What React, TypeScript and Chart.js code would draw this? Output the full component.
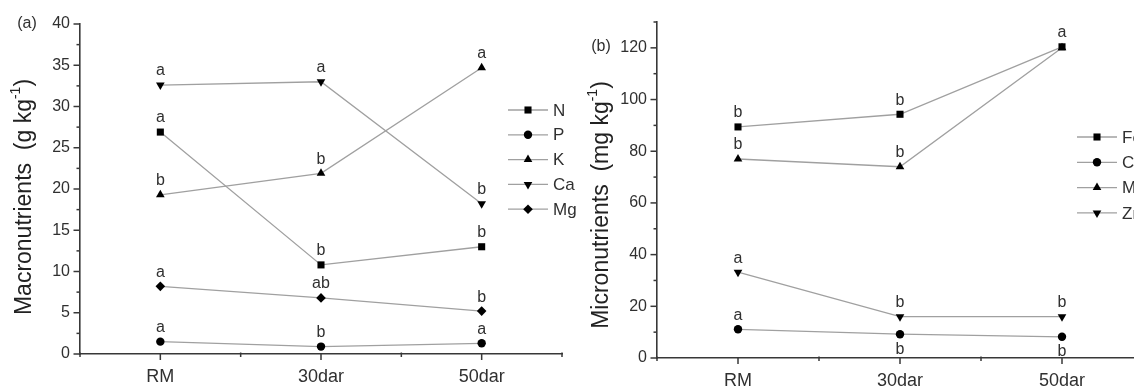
import React, { useEffect, useRef } from 'react';
import { Chart, registerables } from 'chart.js';

Chart.register(...registerables);

// ---------- data ----------
const categories = ['RM', '30dar', '50dar'];

// Panel (a) – macronutrients (g kg-1)
const nValues = [26.9, 10.8, 13.0];
const pValues = [1.5, 0.9, 1.3];
const kValues = [19.3, 21.9, 34.7];
const caValues = [32.6, 33.0, 18.2];
const mgValues = [8.2, 6.8, 5.2];

const nLetters = ['a', 'b', 'b'];
const pLetters = ['a', 'b', 'a'];
const kLetters = ['b', 'b', 'a'];
const caLetters = ['a', 'a', 'b'];
const mgLetters = ['a', 'ab', 'b'];

// Panel (b) – micronutrients (mg kg-1)
const feValues = [89.4, 94.3, 120.4];
const cuValues = [11.1, 9.2, 8.2];
const mnValues = [77.0, 74.0, 120.0];
const znValues = [33.2, 16.0, 16.0];

const feLetters = ['b', 'b', 'a'];
const cuLetters = ['a', 'b', 'b'];
const cuLettersBelow = [false, true, true];
const mnLetters = ['b', 'b', ''];
const znLetters = ['a', 'b', 'b'];

const macroTickStep = 2.5;
const macroLabelStep = 5;
const macroMax = 40;
const microTickStep = 10;
const microLabelStep = 20;
const microMax = 130;

// ---------- styling ----------
const FONT = "'Liberation Sans', Arial, Helvetica, sans-serif";
const LINE_COLOR = '#a0a0a0';
const AXIS_COLOR = '#383838';
const TEXT_COLOR = '#303030';

type Marker = { style: string; rotation: number; radius: number };
const SQUARE: Marker = { style: 'rect', rotation: 0, radius: 5 };
const CIRCLE: Marker = { style: 'circle', rotation: 0, radius: 4.2 };
const TRI_UP: Marker = { style: 'triangle', rotation: 0, radius: 5 };
const TRI_DOWN: Marker = { style: 'triangle', rotation: 180, radius: 5 };
const DIAMOND: Marker = { style: 'rectRot', rotation: 0, radius: 4.8 };

function drawMarker(ctx: CanvasRenderingContext2D, m: Marker, x: number, y: number) {
  const r = m.radius;
  ctx.beginPath();
  if (m.style === 'rect') {
    const s = Math.SQRT1_2 * r;
    ctx.rect(x - s, y - s, 2 * s, 2 * s);
  } else if (m.style === 'circle') {
    ctx.arc(x, y, r, 0, Math.PI * 2);
  } else if (m.style === 'triangle') {
    let rad = (m.rotation * Math.PI) / 180;
    ctx.moveTo(x + Math.sin(rad) * r, y - Math.cos(rad) * r);
    rad += (2 * Math.PI) / 3;
    ctx.lineTo(x + Math.sin(rad) * r, y - Math.cos(rad) * r);
    rad += (2 * Math.PI) / 3;
    ctx.lineTo(x + Math.sin(rad) * r, y - Math.cos(rad) * r);
    ctx.closePath();
  } else if (m.style === 'rectRot') {
    ctx.moveTo(x - r, y);
    ctx.lineTo(x, y - r);
    ctx.lineTo(x + r, y);
    ctx.lineTo(x, y + r);
    ctx.closePath();
  }
  ctx.fillStyle = '#000';
  ctx.fill();
}

const isMult = (v: number, step: number) => Math.abs(v / step - Math.round(v / step)) < 1e-6;

// letters above / below points
const lettersPlugin = {
  id: 'letters',
  afterDatasetsDraw(chart: any) {
    const ctx = chart.ctx as CanvasRenderingContext2D;
    ctx.save();
    ctx.font = `16px ${FONT}`;
    ctx.fillStyle = TEXT_COLOR;
    ctx.textAlign = 'center';
    ctx.textBaseline = 'middle';
    chart.data.datasets.forEach((ds: any, di: number) => {
      const meta = chart.getDatasetMeta(di);
      meta.data.forEach((pt: any, i: number) => {
        const letter = ds.letters?.[i];
        if (!letter) return;
        const below = ds.below?.[i];
        ctx.fillText(letter, pt.x, pt.y + (below ? 15 : -14));
      });
    });
    ctx.restore();
  },
};

// ticks (major / minor), axis title, panel tag, legend
const decorPlugin = {
  id: 'decor',
  afterDraw(chart: any, _args: any, opts: any) {
    const ctx = chart.ctx as CanvasRenderingContext2D;
    const xs = chart.scales.x;
    const ys = chart.scales.y;
    const area = chart.chartArea;
    ctx.save();
    ctx.strokeStyle = AXIS_COLOR;
    ctx.lineWidth = 1.5;
    // x ticks
    xs.ticks.forEach((t: any) => {
      const px = xs.getPixelForValue(t.value);
      const major = isMult(t.value, 1);
      ctx.beginPath();
      if (major) {
        ctx.moveTo(px, area.bottom);
        ctx.lineTo(px, area.bottom + 6);
      } else {
        ctx.moveTo(px, area.bottom - 1.5);
        ctx.lineTo(px, area.bottom + 3);
      }
      ctx.stroke();
    });
    // y ticks
    ys.ticks.forEach((t: any) => {
      const py = ys.getPixelForValue(t.value);
      const major = isMult(t.value, opts.labelStep);
      ctx.beginPath();
      ctx.moveTo(area.left, py);
      ctx.lineTo(area.left - (major ? 6.5 : 3.5), py);
      ctx.stroke();
    });

    // axis title (rotated, with superscript)
    ctx.fillStyle = '#222';
    ctx.translate(opts.titleX, opts.titleY);
    ctx.rotate(-Math.PI / 2);
    const mainFont = `23px ${FONT}`;
    const supFont = `14px ${FONT}`;
    ctx.font = mainFont;
    const w1 = ctx.measureText(opts.title).width;
    ctx.font = supFont;
    const w2 = ctx.measureText(opts.sup).width;
    ctx.font = mainFont;
    const w3 = ctx.measureText(')').width;
    let x0 = -(w1 + w2 + w3) / 2;
    ctx.textBaseline = 'middle';
    ctx.textAlign = 'left';
    ctx.fillText(opts.title, x0, 0);
    x0 += w1;
    ctx.font = supFont;
    ctx.fillText(opts.sup, x0, -9);
    x0 += w2;
    ctx.font = mainFont;
    ctx.fillText(')', x0, 0);
    ctx.setTransform(1, 0, 0, 1, 0, 0);

    // panel tag
    ctx.font = `16px ${FONT}`;
    ctx.fillStyle = TEXT_COLOR;
    ctx.textAlign = 'center';
    ctx.textBaseline = 'middle';
    ctx.fillText(opts.tag, opts.tagX, opts.tagY);

    // legend
    ctx.font = `17px ${FONT}`;
    ctx.textAlign = 'left';
    chart.data.datasets.forEach((ds: any, i: number) => {
      const y = opts.legendY0 + i * opts.legendStep;
      ctx.strokeStyle = LINE_COLOR;
      ctx.lineWidth = 1.3;
      ctx.beginPath();
      ctx.moveTo(opts.legendX, y);
      ctx.lineTo(opts.legendX + 40, y);
      ctx.stroke();
      drawMarker(ctx, ds.marker, opts.legendX + 20, y);
      ctx.fillStyle = TEXT_COLOR;
      ctx.fillText(ds.label, opts.legendX + 45, y + 1);
    });
    ctx.restore();
  },
};

function makeDataset(label: string, values: number[], letters: string[], marker: Marker, below?: boolean[]) {
  return {
    label,
    data: values.map((v, i) => ({ x: i, y: v })),
    letters,
    below,
    marker,
    borderColor: LINE_COLOR,
    borderWidth: 1.3,
    pointStyle: marker.style,
    pointRotation: marker.rotation,
    pointRadius: marker.radius,
    pointBackgroundColor: '#000',
    pointBorderColor: '#000',
    pointBorderWidth: 0,
    tension: 0,
    fill: false,
  };
}

function makeConfig(p: {
  datasets: any[];
  yMax: number;
  tickStep: number;
  labelStep: number;
  yWidth: number;
  xHeight: number;
  padTop: number;
  padRight: number;
  decor: any;
}) {
  return {
    type: 'line' as const,
    data: { datasets: p.datasets },
    plugins: [lettersPlugin, decorPlugin],
    options: {
      animation: false as const,
      responsive: false,
      maintainAspectRatio: false,
      events: [],
      layout: { padding: { top: p.padTop, right: p.padRight, left: 0, bottom: 0 } },
      plugins: {
        legend: { display: false },
        tooltip: { enabled: false },
        decor: { ...p.decor, labelStep: p.labelStep },
      },
      scales: {
        x: {
          type: 'linear' as const,
          min: -0.5,
          max: 2.5,
          afterFit: (s: any) => {
            s.height = p.xHeight;
          },
          ticks: {
            stepSize: 0.5,
            autoSkip: false,
            maxRotation: 0,
            padding: 12,
            font: { family: FONT, size: 18 },
            color: TEXT_COLOR,
            callback: (v: any) => (isMult(Number(v), 1) ? categories[Math.round(Number(v))] : ''),
          },
          grid: { display: false, drawTicks: false },
          border: { display: true, color: AXIS_COLOR, width: 1.6 },
        },
        y: {
          type: 'linear' as const,
          min: 0,
          max: p.yMax,
          afterFit: (s: any) => {
            s.width = p.yWidth;
          },
          ticks: {
            stepSize: p.tickStep,
            autoSkip: false,
            padding: 10,
            font: { family: FONT, size: 16 },
            color: TEXT_COLOR,
            callback: (v: any) => (isMult(Number(v), p.labelStep) && Number(v) <= p.yMax - (p.yMax % p.labelStep) ? String(v) : ''),
          },
          grid: { display: false, drawTicks: false },
          border: { display: true, color: AXIS_COLOR, width: 1.6 },
        },
      },
    },
  };
}

const configA = makeConfig({
  datasets: [
    makeDataset('N', nValues, nLetters, SQUARE),
    makeDataset('P', pValues, pLetters, CIRCLE),
    makeDataset('K', kValues, kLetters, TRI_UP),
    makeDataset('Ca', caValues, caLetters, TRI_DOWN),
    makeDataset('Mg', mgValues, mgLetters, DIAMOND),
  ],
  yMax: macroMax,
  tickStep: macroTickStep,
  labelStep: macroLabelStep,
  yWidth: 80,
  xHeight: 33,
  padTop: 24,
  padRight: 38,
  decor: {
    title: 'Macronutrients  (g kg',
    sup: '-1',
    titleX: 25,
    titleY: 197,
    tag: '(a)',
    tagX: 27,
    tagY: 24,
    legendX: 508,
    legendY0: 110,
    legendStep: 24.8,
  },
});

const configB = makeConfig({
  datasets: [
    makeDataset('Fe', feValues, feLetters, SQUARE),
    makeDataset('Cu', cuValues, cuLetters, CIRCLE, cuLettersBelow),
    makeDataset('Mn', mnValues, mnLetters, TRI_UP),
    makeDataset('Zn', znValues, znLetters, TRI_DOWN),
  ],
  yMax: microMax,
  tickStep: microTickStep,
  labelStep: microLabelStep,
  yWidth: 90,
  xHeight: 29,
  padTop: 22,
  padRight: 44,
  decor: {
    title: 'Micronutrients  (mg kg',
    sup: '-1',
    titleX: 35,
    titleY: 205,
    tag: '(b)',
    tagX: 34,
    tagY: 47,
    legendX: 510,
    legendY0: 137,
    legendStep: 25.3,
  },
});

export default function App() {
  const refA = useRef<HTMLCanvasElement>(null);
  const refB = useRef<HTMLCanvasElement>(null);
  useEffect(() => {
    const a = new Chart(refA.current as HTMLCanvasElement, configA as any);
    const b = new Chart(refB.current as HTMLCanvasElement, configB as any);
    return () => {
      a.destroy();
      b.destroy();
    };
  }, []);
  return (
    <div
      style={{
        position: 'absolute',
        left: 0,
        top: 0,
        width: 1134,
        height: 387,
        overflow: 'hidden',
        background: '#fff',
      }}
    >
      <canvas
        ref={refA}
        width={600}
        height={387}
        style={{ position: 'absolute', left: 0, top: 0, width: 600, height: 387 }}
      />
      <canvas
        ref={refB}
        width={620}
        height={387}
        style={{ position: 'absolute', left: 567, top: 0, width: 620, height: 387 }}
      />
    </div>
  );
}
